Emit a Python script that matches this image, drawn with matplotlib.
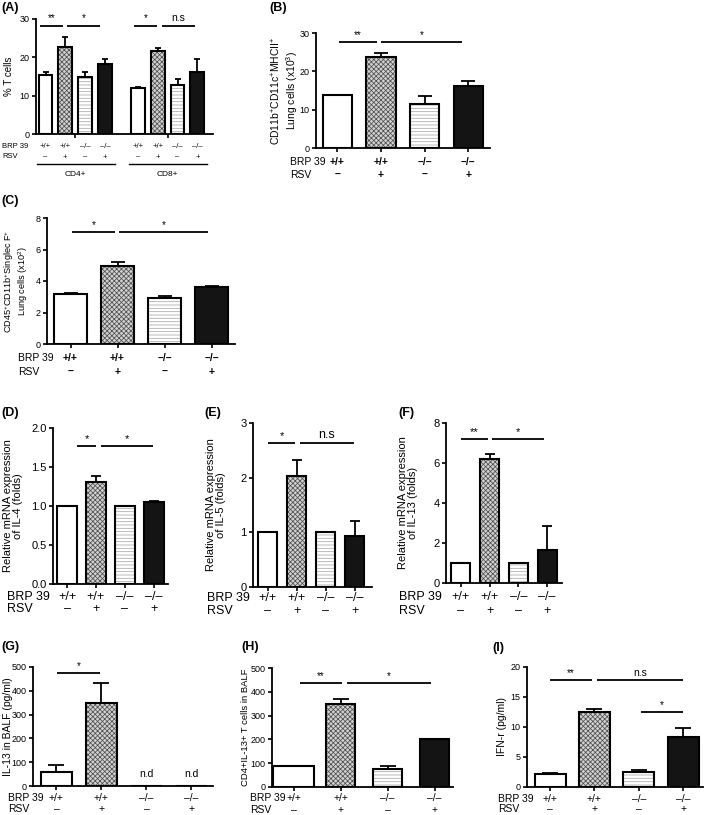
import matplotlib.pyplot as plt
import matplotlib.transforms as mtransforms
import numpy as np

plt.rcParams["font.family"] = ["Liberation Sans", "DejaVu Sans"]
plt.rcParams["mathtext.fontset"] = "custom"
plt.rcParams["mathtext.rm"] = "Liberation Sans"
plt.rcParams["mathtext.it"] = "Liberation Sans:italic"
plt.rcParams["mathtext.bf"] = "Liberation Sans:bold"
plt.rcParams["hatch.linewidth"] = 0.55

# ---- data ----
GENOTYPE = ["+/+", "+/+", "–/–", "–/–"]
RSV = ["–", "+", "–", "+"]

A_CD4 = [15.5, 22.6, 15.0, 18.3]
A_CD4_ERR = [0.6, 2.6, 1.3, 1.2]
A_CD8 = [11.9, 21.7, 12.9, 16.1]
A_CD8_ERR = [0.35, 0.8, 1.4, 3.5]

B_VALS = [13.7, 23.7, 11.4, 16.2]
B_ERR = [0.2, 1.2, 2.1, 1.2]

C_VALS = [3.2, 4.93, 2.95, 3.63]
C_ERR = [0.05, 0.3, 0.12, 0.06]

D_VALS = [1.0, 1.31, 1.0, 1.05]
D_ERR = [0.0, 0.08, 0.0, 0.02]

E_VALS = [1.0, 2.03, 1.0, 0.94]
E_ERR = [0.0, 0.29, 0.0, 0.27]

F_VALS = [1.0, 6.2, 1.0, 1.65]
F_ERR = [0.0, 0.25, 0.0, 1.2]

G_VALS = [57, 350, 0, 0]
G_ERR = [31, 82, 0, 0]
G_NOT_DETECTED = [False, False, True, True]

H_VALS = [90, 348, 75, 200]
H_ERR = [0, 22, 13, 3]

I_VALS = [2.2, 12.45, 2.45, 8.3]
I_ERR = [0.2, 0.5, 0.4, 1.5]

W, H = 709, 815

BAR_STYLES = [
    dict(color="white", hatch=None, hatchcolor="white"),
    dict(color="#d2d2d2", hatch="xxxxxxx", hatchcolor="#505050"),
    dict(color="white", hatch="-----", hatchcolor="#a8a8a8"),
    dict(color="#141414", hatch=None, hatchcolor="#141414"),
]


def add_axes_px(fig, left, top, right, bottom):
    return fig.add_axes([left / W, 1 - bottom / H, (right - left) / W, (bottom - top) / H])


def fx(x_px):
    return x_px / W


def fy(y_px):
    return 1 - y_px / H


def draw_bars(ax, xs, vals, errs, widths, capsize):
    for i, (x, v, w) in enumerate(zip(xs, vals, widths)):
        st = BAR_STYLES[i % 4]
        ax.bar(x, v, w, color=st["color"], hatch=st["hatch"], edgecolor=st["hatchcolor"], linewidth=0, zorder=2)
        ax.bar(x, v, w, fill=False, edgecolor="black", linewidth=1.5, zorder=3)
    xs = np.asarray(xs, float)
    vals = np.asarray(vals, float)
    errs = np.asarray(errs, float)
    mask = errs > 0
    ax.errorbar(
        xs[mask],
        vals[mask],
        yerr=[np.zeros(mask.sum()), errs[mask]],
        fmt="none",
        ecolor="black",
        elinewidth=1.3,
        capsize=capsize,
        capthick=1.3,
        zorder=4,
    )


def sig_line(ax, x0, x1, y, label, fs):
    ax.plot([x0, x1], [y, y], color="black", linewidth=1.3, clip_on=False, solid_capstyle="butt")
    ax.annotate(label, xy=((x0 + x1) / 2, y), xytext=(0, 1.5), textcoords="offset points",
                ha="center", va="bottom", fontsize=fs, annotation_clip=False)


def style_axes(ax, xlim, ymax, yticks, fs, xticks, fmt=None):
    ax.set_xlim(*xlim)
    ax.set_ylim(0, ymax)
    ax.set_yticks(yticks)
    if fmt is not None:
        ax.set_yticklabels([format(t, fmt) for t in yticks])
    ax.set_xticks(xticks)
    for side in ("top", "right"):
        ax.spines[side].set_visible(False)
    for side in ("left", "bottom"):
        ax.spines[side].set_linewidth(1.3)
    ax.tick_params(axis="both", length=3, width=1.2, labelsize=fs, pad=1.5)
    ax.tick_params(axis="x", labelbottom=False)


def set_ylabel_px(ax, box, text, x_px, fs):
    left, top, right, bottom = box
    ax.set_ylabel(text, fontsize=fs, va="center", multialignment="center", linespacing=1.1)
    ax.yaxis.set_label_coords((x_px - left) / (right - left), 0.5)


def row_labels(fig, ax, xs, y1, y2, name_x, fs, weight="normal"):
    trans = mtransforms.blended_transform_factory(ax.transData, fig.transFigure)
    for x, g, r in zip(xs, GENOTYPE, RSV):
        ax.text(x, fy(y1), g, transform=trans, ha="center", va="center", fontsize=fs, weight=weight, clip_on=False)
        ax.text(x, fy(y2), r, transform=trans, ha="center", va="center", fontsize=fs, weight=weight, clip_on=False)
    fig.text(fx(name_x), fy(y1), "BRP 39", ha="left", va="center", fontsize=fs)
    fig.text(fx(name_x), fy(y2), "RSV", ha="left", va="center", fontsize=fs)


def panel_letter(fig, letter, x_px, y_px):
    fig.text(fx(x_px), fy(y_px), f"({letter})", ha="left", va="top", fontsize=9, weight="bold")


fig = plt.figure(figsize=(W / 100, H / 100), dpi=100)
xs4 = np.arange(4)

# ---- (A) % T cells, CD4+ / CD8+ ----
box = (36, 19, 213, 134)
ax = add_axes_px(fig, *box)
cd4_x = xs4
cd8_x = xs4 + 4.67
draw_bars(ax, cd4_x, A_CD4, A_CD4_ERR, [0.7] * 4, 2.5)
draw_bars(ax, cd8_x, A_CD8, A_CD8_ERR, [0.7] * 4, 2.5)
style_axes(ax, (-0.48, 8.46), 30, [0, 10, 20, 30], 6.5, [cd4_x.mean(), cd8_x.mean()])
set_ylabel_px(ax, box, "% T cells", 9, 7)
sig_line(ax, -0.28, 0.88, 28.3, "**", 7)
sig_line(ax, 1.09, 2.75, 28.3, "*", 7)
sig_line(ax, 4.47, 5.63, 28.3, "*", 7)
sig_line(ax, 5.88, 7.55, 28.3, "n.s", 7.5)
trans = mtransforms.blended_transform_factory(ax.transData, fig.transFigure)
for grp, name in ((cd4_x, "CD4+"), (cd8_x, "CD8+")):
    for x, g, r in zip(grp, GENOTYPE, RSV):
        ax.text(x, fy(146), g, transform=trans, ha="center", va="center", fontsize=5.5, clip_on=False)
        ax.text(x, fy(157), r, transform=trans, ha="center", va="center", fontsize=5.5, clip_on=False)
    ax.plot([grp[0] - 0.45, grp[-1] + 0.5], [fy(164), fy(164)], transform=trans, color="black",
            linewidth=1.0, clip_on=False)
    ax.text(grp.mean(), fy(174), name, transform=trans, ha="center", va="center", fontsize=6, clip_on=False)
fig.text(fx(2), fy(146), "BRP 39", ha="left", va="center", fontsize=5.5)
fig.text(fx(2), fy(157), "RSV", ha="left", va="center", fontsize=5.5)
panel_letter(fig, "A", 1, 2)

# ---- (B) CD11b+CD11c+MHCII+ lung cells ----
box = (316, 33, 490, 148)
ax = add_axes_px(fig, *box)
draw_bars(ax, xs4, B_VALS, B_ERR, [0.67] * 4, 5)
style_axes(ax, (-0.49, 3.5), 30, [0, 10, 20, 30], 6.5, xs4)
set_ylabel_px(ax, box, "CD11b$^{+}$CD11c$^{+}$MHCII$^{+}$\nLung cells (x10$^{3}$)", 285, 7.5)
sig_line(ax, 0.03, 0.91, 27.7, "**", 7)
sig_line(ax, 1.0, 2.86, 27.7, "*", 7)
row_labels(fig, ax, xs4, 162, 175, 290, 7.5, weight="bold")
panel_letter(fig, "B", 269, 2)

# ---- (C) CD45+CD11b+Siglec F+ lung cells ----
box = (47, 218, 235, 344)
ax = add_axes_px(fig, *box)
draw_bars(ax, xs4, C_VALS, C_ERR, [0.7] * 4, 5)
style_axes(ax, (-0.5, 3.5), 8, [0, 2, 4, 6, 8], 6.5, xs4)
set_ylabel_px(ax, box, "CD45$^{+}$CD11b$^{+}$Singlec F$^{+}$\nLung cells (x10$^{2}$)", 16, 6.6)
sig_line(ax, 0.03, 0.95, 7.1, "*", 7)
sig_line(ax, 1.03, 2.92, 7.1, "*", 7)
row_labels(fig, ax, xs4, 358, 372, 18, 7.5, weight="bold")
panel_letter(fig, "C", 1, 195)

# ---- (D) IL-4 mRNA ----
box = (53, 428, 168, 584)
ax = add_axes_px(fig, *box)
draw_bars(ax, xs4, D_VALS, D_ERR, [0.7] * 4, 3.5)
style_axes(ax, (-0.49, 3.5), 2.0, [0, 0.5, 1.0, 1.5, 2.0], 8, xs4, fmt=".1f")
set_ylabel_px(ax, box, "Relative mRNA expression\nof IL-4 (folds)", 13, 8)
sig_line(ax, 0.35, 1.0, 1.77, "*", 8)
sig_line(ax, 1.18, 2.99, 1.77, "*", 8)
row_labels(fig, ax, xs4, 597, 609, 7, 9)
panel_letter(fig, "D", 1, 407)

# ---- (E) IL-5 mRNA ----
box = (253, 423, 372, 587)
ax = add_axes_px(fig, *box)
draw_bars(ax, xs4, E_VALS, E_ERR, [0.68] * 4, 3.5)
style_axes(ax, (-0.5, 3.6), 3, [0, 1, 2, 3], 8, xs4)
set_ylabel_px(ax, box, "Relative mRNA expression\nof IL-5 (folds)", 216, 8)
sig_line(ax, 0.02, 0.95, 2.64, "*", 8)
sig_line(ax, 1.13, 2.97, 2.64, "n.s", 9)
row_labels(fig, ax, xs4, 598, 611, 207, 9)
panel_letter(fig, "E", 204, 407)

# ---- (F) IL-13 mRNA ----
box = (446, 423, 562, 583)
ax = add_axes_px(fig, *box)
draw_bars(ax, xs4, F_VALS, F_ERR, [0.66] * 4, 3.5)
style_axes(ax, (-0.52, 3.52), 8, [0, 2, 4, 6, 8], 8, xs4)
set_ylabel_px(ax, box, "Relative mRNA expression\nof IL-13 (folds)", 408, 8)
sig_line(ax, 0.0, 0.94, 7.2, "**", 8)
sig_line(ax, 1.08, 2.89, 7.2, "*", 8)
row_labels(fig, ax, xs4, 597, 611, 399, 9)
panel_letter(fig, "F", 398, 407)

# ---- (G) IL-13 in BALF ----
box = (33, 667, 213, 786)
ax = add_axes_px(fig, *box)
draw_bars(ax, xs4, G_VALS, G_ERR, [0.69] * 4, 6)
style_axes(ax, (-0.52, 3.48), 500, [0, 100, 200, 300, 400, 500], 6.5, xs4)
set_ylabel_px(ax, box, "IL-13 in BALF (pg/ml)", 8, 7.5)
sig_line(ax, 0.01, 0.97, 475, "*", 7)
for x, nd in zip(xs4, G_NOT_DETECTED):
    if nd:
        ax.text(x, 30, "n.d", ha="center", va="bottom", fontsize=7.5)
row_labels(fig, ax, xs4, 798, 809, 8, 7.5)
panel_letter(fig, "G", 1, 641)

# ---- (H) CD4+IL-13+ T cells in BALF ----
box = (272, 668, 453, 787)
ax = add_axes_px(fig, *box)
draw_bars(ax, xs4, H_VALS, H_ERR, [0.87, 0.62, 0.62, 0.62], 6)
style_axes(ax, (-0.46, 3.39), 500, [0, 100, 200, 300, 400, 500], 6.5, xs4)
set_ylabel_px(ax, box, "CD4+IL-13+ T cells in BALF", 246, 6.8)
sig_line(ax, 0.13, 1.03, 437, "**", 7)
sig_line(ax, 1.13, 2.92, 437, "*", 7)
row_labels(fig, ax, xs4, 798, 810, 250, 7.5)
panel_letter(fig, "H", 241, 641)

# ---- (I) IFN-r ----
box = (527, 667, 703, 787)
ax = add_axes_px(fig, *box)
draw_bars(ax, xs4, I_VALS, I_ERR, [0.7] * 4, 6)
style_axes(ax, (-0.52, 3.45), 20, [0, 5, 10, 15, 20], 6.5, xs4)
set_ylabel_px(ax, box, "IFN-r (pg/ml)", 502, 7.5)
sig_line(ax, -0.01, 0.95, 17.8, "**", 7)
sig_line(ax, 1.06, 3.0, 17.8, "n.s", 7.5)
sig_line(ax, 2.06, 3.0, 12.5, "*", 7)
row_labels(fig, ax, xs4, 799, 809, 498, 7.5)
panel_letter(fig, "I", 492, 642)

fig.savefig("out.png", dpi=100)
